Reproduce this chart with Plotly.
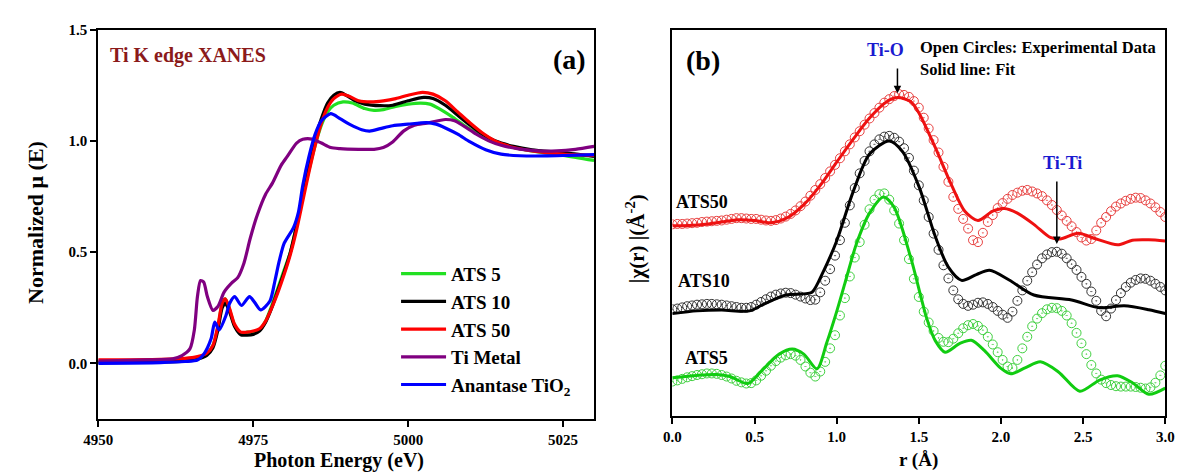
import plotly.graph_objects as go

# ---------------- Panel (a): Ti K-edge XANES ----------------
e_ats5 = [4950, 4960, 4964, 4966, 4967.5, 4968.5, 4969.3, 4970.0, 4970.5, 4971.2, 4972.0, 4973.0, 4974.0,
          4975.0, 4976.0, 4977.0, 4978.0, 4979.0, 4980.0, 4981.0, 4982.0, 4983.0, 4984.0, 4985.0, 4986.0,
          4987.0, 4988.0, 4989.5, 4991.0, 4993.0, 4994.5, 4996.0, 4998.0, 5000.0, 5002.0, 5003.5, 5005.0,
          5007.0, 5009.0, 5011.0, 5013.0, 5015.0, 5018.0, 5021.0, 5025.0, 5030.0]
mu_ats5 = [0.005, 0.008, 0.012, 0.02, 0.04, 0.08, 0.16, 0.27, 0.29, 0.24, 0.17, 0.135, 0.14,
           0.14, 0.15, 0.19, 0.26, 0.34, 0.42, 0.50, 0.62, 0.75, 0.87, 0.98, 1.07,
           1.13, 1.16, 1.175, 1.17, 1.145, 1.137, 1.14, 1.155, 1.165, 1.17, 1.165, 1.145,
           1.11, 1.07, 1.035, 1.005, 0.985, 0.965, 0.95, 0.935, 0.912]

e_ats10 = [4950, 4960, 4964, 4966, 4967.5, 4968.5, 4969.3, 4970.0, 4970.5, 4971.2, 4972.0, 4973.0, 4974.0,
           4975.0, 4976.0, 4977.0, 4978.0, 4979.0, 4980.0, 4981.0, 4982.0, 4983.0, 4984.0, 4985.0, 4986.0,
           4987.0, 4988.0, 4989.0, 4990.0, 4991.5, 4993.0, 4995.5, 4997.5, 5000.0, 5002.5, 5004.0, 5006.0,
           5008.0, 5010.0, 5012.0, 5014.0, 5017.0, 5020.0, 5025.0, 5030.0]
mu_ats10 = [0.003, 0.006, 0.01, 0.018, 0.035, 0.07, 0.15, 0.25, 0.27, 0.23, 0.165, 0.128, 0.127,
            0.13, 0.145, 0.185, 0.25, 0.33, 0.41, 0.50, 0.62, 0.76, 0.89, 1.01, 1.10,
            1.17, 1.205, 1.218, 1.205, 1.18, 1.165, 1.158, 1.16, 1.18, 1.195, 1.19, 1.16,
            1.115, 1.07, 1.03, 1.0, 0.975, 0.96, 0.947, 0.93]

e_ats50 = [4950, 4960, 4964, 4966, 4967.5, 4968.5, 4969.3, 4970.0, 4970.5, 4971.2, 4972.0, 4973.0, 4974.0,
           4975.0, 4976.0, 4977.0, 4978.0, 4979.0, 4980.0, 4981.0, 4982.0, 4983.0, 4984.0, 4985.0, 4986.0,
           4987.0, 4988.0, 4989.3, 4990.5, 4992.0, 4994.0, 4996.0, 4998.0, 5000.0, 5002.3, 5004.0, 5006.0,
           5008.0, 5010.0, 5012.0, 5014.0, 5017.0, 5020.0, 5025.0, 5030.0]
mu_ats50 = [0.015, 0.018, 0.022, 0.03, 0.045, 0.08, 0.17, 0.27, 0.29, 0.245, 0.175, 0.14, 0.14,
            0.145, 0.155, 0.19, 0.25, 0.32, 0.40, 0.49, 0.60, 0.73, 0.86, 0.98, 1.08,
            1.15, 1.19, 1.21, 1.20, 1.18, 1.175, 1.18, 1.19, 1.205, 1.218, 1.21, 1.18,
            1.13, 1.08, 1.035, 1.0, 0.97, 0.955, 0.94, 0.935]

e_ti = [4950, 4958, 4962, 4963.5, 4964.8, 4965.5, 4966.0, 4966.5, 4967.0, 4967.6, 4968.5, 4969.3, 4970.3,
        4971.5, 4972.5, 4973.5, 4974.5, 4975.7, 4977.0, 4978.1, 4979.5, 4980.5, 4982.0, 4983.0, 4984.5,
        4986.0, 4987.5, 4989.0, 4992.0, 4994.5, 4996.0, 4997.5, 4999.3, 5001.0, 5003.0, 5006.0, 5007.5,
        5009.0, 5011.0, 5013.0, 5015.0, 5018.0, 5021.0, 5024.0, 5027.0, 5030.0]
mu_ti = [0.01, 0.015, 0.02, 0.035, 0.066, 0.15, 0.30, 0.372, 0.365, 0.30, 0.238, 0.255, 0.32,
         0.36, 0.385, 0.45, 0.56, 0.67, 0.76, 0.81, 0.89, 0.93, 0.99, 1.007, 1.008,
         0.99, 0.97, 0.965, 0.962, 0.962, 0.97, 0.995, 1.045, 1.07, 1.08, 1.096, 1.09,
         1.066, 1.03, 1.0, 0.98, 0.963, 0.955, 0.955, 0.962, 0.975]

e_tio2 = [4950, 4960, 4964, 4966.0, 4967.0, 4968.2, 4968.8, 4969.5, 4970.6, 4971.2, 4972.0, 4973.1, 4974.4,
          4975.2, 4976.2, 4977.7, 4978.5, 4979.2, 4980.0, 4981.5, 4982.3, 4983.0, 4984.0, 4985.0, 4986.0,
          4987.5, 4989.0, 4990.5, 4992.5, 4993.8, 4995.5, 4997.5, 5000.0, 5003.0, 5004.5, 5006.0, 5008.0,
          5010.0, 5012.5, 5015.0, 5018.0, 5022.0, 5026.0, 5030.0]
mu_tio2 = [0.0, 0.003, 0.008, 0.015, 0.04, 0.11, 0.185, 0.15, 0.215, 0.27, 0.30, 0.26, 0.30,
           0.275, 0.24, 0.28, 0.37, 0.46, 0.54, 0.61, 0.68, 0.80, 0.93, 1.03, 1.09,
           1.122, 1.10, 1.075, 1.05, 1.044, 1.055, 1.068, 1.075, 1.082, 1.075, 1.058, 1.03,
           0.995, 0.96, 0.94, 0.933, 0.932, 0.935, 0.938]

xanes_names = ["ATS 5", "ATS 10", "ATS 50", "Ti Metal", "Anantase TiO<sub>2</sub>"]
xanes_colors = ["#22e022", "#000000", "#ff0000", "#800080", "#0000ff"]

# ---------------- Panel (b): Fourier transformed EXAFS ----------------
r_exp = [round(0.03 * i, 2) for i in range(101)]

chi_ats50_exp = [4.96, 4.97, 4.97, 4.98, 4.99, 5.00, 5.02, 5.03, 5.04, 5.05,
                 5.06, 5.08, 5.10, 5.12, 5.12, 5.11, 5.10, 5.10, 5.08, 5.06,
                 5.05, 5.07, 5.11, 5.16, 5.23, 5.32, 5.43, 5.55, 5.70, 5.85,
                 6.00, 6.16, 6.33, 6.50, 6.67, 6.85, 7.03, 7.21, 7.37, 7.54,
                 7.70, 7.84, 7.98, 8.11, 8.20, 8.28, 8.33, 8.31, 8.26, 8.15,
                 7.98, 7.72, 7.44, 7.14, 6.82, 6.45, 6.06, 5.67, 5.36, 5.10,
                 4.85, 4.55, 4.50, 4.74, 5.02, 5.20, 5.38, 5.51, 5.62, 5.72,
                 5.78, 5.83, 5.85, 5.81, 5.76, 5.69, 5.58, 5.46, 5.33, 5.19,
                 5.05, 4.91, 4.76, 4.62, 4.54, 4.58, 4.80, 5.00, 5.15, 5.30,
                 5.42, 5.50, 5.57, 5.62, 5.65, 5.64, 5.58, 5.50, 5.40, 5.28, 5.15]

chi_ats10_exp = [2.76, 2.78, 2.81, 2.84, 2.86, 2.88, 2.89, 2.90, 2.90, 2.89,
                 2.88, 2.86, 2.84, 2.82, 2.80, 2.80, 2.82, 2.88, 2.95, 3.02,
                 3.09, 3.14, 3.17, 3.19, 3.18, 3.14, 3.09, 3.04, 3.00, 3.01,
                 3.20, 3.50, 3.80, 4.15, 4.55, 5.00, 5.45, 5.90, 6.28, 6.60,
                 6.85, 7.03, 7.16, 7.23, 7.25, 7.20, 7.10, 6.93, 6.68, 6.35,
                 5.97, 5.58, 5.15, 4.72, 4.30, 3.90, 3.56, 3.25, 3.02, 2.90,
                 2.85, 2.88, 2.93, 2.94, 2.90, 2.82, 2.72, 2.62, 2.54, 2.70,
                 2.98, 3.25, 3.50, 3.72, 3.92, 4.08, 4.18, 4.24, 4.25, 4.20,
                 4.08, 3.93, 3.78, 3.60, 3.42, 3.22, 2.98, 2.72, 2.58, 2.78,
                 3.00, 3.18, 3.34, 3.45, 3.52, 3.56, 3.55, 3.50, 3.42, 3.34, 3.25]

chi_ats5_exp = [0.89, 0.92, 0.96, 1.00, 1.03, 1.06, 1.08, 1.10, 1.10, 1.09,
                1.06, 1.02, 0.97, 0.91, 0.87, 0.84, 0.85, 0.92, 1.04, 1.17,
                1.30, 1.42, 1.51, 1.57, 1.60, 1.56, 1.45, 1.28, 1.12, 1.02,
                1.15, 1.40, 1.75, 2.09, 2.60, 3.05, 3.61, 4.10, 4.50, 4.95,
                5.35, 5.60, 5.74, 5.76, 5.60, 5.32, 4.98, 4.55, 4.06, 3.55,
                3.08, 2.70, 2.42, 2.20, 2.02, 1.92, 1.91, 2.00, 2.14, 2.27,
                2.35, 2.38, 2.33, 2.22, 2.05, 1.85, 1.65, 1.45, 1.28, 1.24,
                1.45, 1.75, 2.05, 2.32, 2.52, 2.66, 2.76, 2.80, 2.79, 2.72,
                2.60, 2.40, 2.15, 1.88, 1.60, 1.32, 1.10, 0.94, 0.85, 0.80,
                0.77, 0.76, 0.76, 0.76, 0.75, 0.73, 0.71, 0.74, 0.86, 1.05, 1.30]

r_fit50 = [0.00, 0.10, 0.20, 0.30, 0.40, 0.50, 0.60, 0.70, 0.80, 0.90, 1.00, 1.10, 1.20, 1.30, 1.37, 1.45,
           1.50, 1.60, 1.70, 1.78, 1.86, 1.95, 2.02, 2.10, 2.20, 2.30, 2.36, 2.47, 2.58, 2.71, 2.80, 2.90, 3.00]
chi_ats50_fit = [4.92, 4.93, 4.96, 5.02, 5.08, 5.06, 5.00, 5.13, 5.47, 5.97, 6.57, 7.16, 7.71, 8.12, 8.24, 8.14,
                 7.85, 6.95, 5.97, 5.30, 5.06, 5.30, 5.37, 5.25, 4.96, 4.62, 4.58, 4.73, 4.58, 4.43, 4.55, 4.56, 4.53]

r_fit10 = [0.00, 0.15, 0.30, 0.47, 0.55, 0.69, 0.80, 0.85, 0.92, 1.00, 1.10, 1.20, 1.32, 1.40, 1.50, 1.60,
           1.68, 1.76, 1.85, 1.93, 2.05, 2.20, 2.43, 2.60, 2.75, 2.90, 3.00]
chi_ats10_fit = [2.65, 2.72, 2.74, 2.72, 2.88, 3.13, 3.16, 3.20, 3.75, 4.53, 5.80, 6.78, 7.12, 6.85, 5.95, 4.65,
                 3.85, 3.51, 3.66, 3.77, 3.52, 3.13, 3.00, 2.80, 2.85, 2.75, 2.65]

r_fit5 = [0.00, 0.15, 0.27, 0.35, 0.46, 0.55, 0.65, 0.73, 0.80, 0.88, 0.94, 1.00, 1.05, 1.12, 1.20, 1.285,
          1.35, 1.45, 1.55, 1.60, 1.66, 1.75, 1.82, 1.90, 2.00, 2.06, 2.15, 2.24, 2.35, 2.48, 2.60, 2.71,
          2.80, 2.90, 3.00]
chi_ats5_fit = [0.99, 1.05, 1.07, 1.02, 0.84, 1.20, 1.60, 1.73, 1.60, 1.22, 1.90, 2.70, 3.43, 4.45, 5.25, 5.67,
                5.40, 4.11, 2.50, 1.95, 1.65, 1.88, 1.96, 1.69, 1.23, 1.09, 1.25, 1.40, 1.14, 0.64, 0.93, 1.04,
                0.86, 0.56, 0.72]

FONT = "Liberation Serif"

fig = go.Figure()

xanes = [(e_ats5, mu_ats5), (e_ats10, mu_ats10), (e_ats50, mu_ats50), (e_ti, mu_ti), (e_tio2, mu_tio2)]
for (ex, mu), name, col in zip(xanes, xanes_names, xanes_colors):
    fig.add_trace(go.Scatter(x=ex, y=mu, mode="lines", name=name,
                             line=dict(color=col, width=3.2, shape="spline", smoothing=0.7),
                             xaxis="x", yaxis="y"))

exafs = [
    (r_exp, chi_ats50_exp, r_fit50, chi_ats50_fit, "#e8403f", "#ee1111"),
    (r_exp, chi_ats10_exp, r_fit10, chi_ats10_fit, "#333333", "#000000"),
    (r_exp, chi_ats5_exp, r_fit5, chi_ats5_fit, "#3fd03f", "#11cc11"),
]
for rx, ce, rf, cf, mcol, lcol in exafs:
    fig.add_trace(go.Scatter(x=rx, y=ce, mode="markers", showlegend=False,
                             marker=dict(symbol="circle-open-dot", size=9, color=mcol,
                                         line=dict(width=1, color=mcol)),
                             xaxis="x2", yaxis="y2"))
    fig.add_trace(go.Scatter(x=rf, y=cf, mode="lines", showlegend=False,
                             line=dict(color=lcol, width=3, shape="spline", smoothing=0.8),
                             xaxis="x2", yaxis="y2"))

axis_common = dict(showline=True, mirror=True, linecolor="black", linewidth=2, showgrid=False,
                   zeroline=False, ticks="outside", ticklen=6, tickwidth=2, tickcolor="black",
                   tickfont=dict(family=FONT, size=15, color="black", weight="bold"))

fig.update_layout(
    width=1184, height=472,
    margin=dict(l=0, r=0, t=0, b=0),
    paper_bgcolor="white", plot_bgcolor="white",
    font=dict(family=FONT, size=15, color="black", weight="bold"),
    xaxis=dict(domain=[0.0718, 0.4992], range=[4950, 5030], tickvals=[4950, 4975, 5000, 5025],
               anchor="y", **axis_common),
    yaxis=dict(domain=[0.1144, 0.9534], range=[-0.25, 1.5], tickvals=[0, 0.5, 1.0, 1.5],
               tickformat=".1f", anchor="x", **axis_common),
    xaxis2=dict(domain=[0.5667, 0.9916], range=[0, 3], tickvals=[0, 0.5, 1.0, 1.5, 2.0, 2.5, 3.0],
                tickformat=".1f", anchor="y2", **axis_common),
    yaxis2=dict(domain=[0.1208, 0.9534], range=[0, 10], anchor="x2",
                **{**axis_common, "ticks": "", "showticklabels": False}),
    showlegend=True,
    legend=dict(x=0.3285, y=0.468, xanchor="left", yanchor="top", bgcolor="rgba(0,0,0,0)",
                font=dict(family=FONT, size=19, color="black", weight="bold"),
                itemwidth=45, tracegroupgap=0),
)

ann = []
# Panel (a) texts
ann.append(dict(text="Ti K edge XANES", xref="paper", yref="paper", x=95 / 1184, y=1 - 48 / 472,
                xanchor="left", yanchor="middle", showarrow=False,
                font=dict(family=FONT, size=20, color="#8B1A1A", weight="bold")))
ann.append(dict(text="(a)", xref="paper", yref="paper", x=566 / 1184, y=1 - 52 / 472,
                xanchor="center", yanchor="middle", showarrow=False,
                font=dict(family=FONT, size=28, color="black", weight="bold")))
ann.append(dict(text="Normalized μ (E)", xref="paper", yref="paper", x=21 / 1184, y=1 - 218 / 472,
                xanchor="center", yanchor="middle", textangle=-90, showarrow=False,
                font=dict(family=FONT, size=22, color="black", weight="bold")))
ann.append(dict(text="Photon Energy (eV)", xref="paper", yref="paper", x=331 / 1184, y=1 - 460 / 472,
                xanchor="center", yanchor="middle", showarrow=False,
                font=dict(family=FONT, size=20, color="black", weight="bold")))
# Panel (b) texts
ann.append(dict(text="(b)", xref="x2", yref="y2", x=0.185, y=9.21, xanchor="center", yanchor="middle",
                showarrow=False, font=dict(family=FONT, size=28, color="black", weight="bold")))
ann.append(dict(text="Open Circles: Experimental Data", xref="x2", yref="y2", x=1.494, y=9.54,
                xanchor="left", yanchor="middle", showarrow=False,
                font=dict(family=FONT, size=16.5, color="black", weight="bold")))
ann.append(dict(text="Solid line: Fit", xref="x2", yref="y2", x=1.494, y=8.98,
                xanchor="left", yanchor="middle", showarrow=False,
                font=dict(family=FONT, size=16.5, color="black", weight="bold")))
ann.append(dict(text="Ti-O", xref="x2", yref="y2", x=1.30, y=9.47, xanchor="center", yanchor="middle",
                showarrow=False, font=dict(family=FONT, size=18, color="#1a1ad0", weight="bold")))
ann.append(dict(text="", xref="x2", yref="y2", x=1.37, y=8.35, axref="x2", ayref="y2", ax=1.37, ay=9.03,
                showarrow=True, arrowhead=2, arrowsize=1, arrowwidth=1.5, arrowcolor="black"))
ann.append(dict(text="Ti-Ti", xref="x2", yref="y2", x=2.375, y=6.56, xanchor="center", yanchor="middle",
                showarrow=False, font=dict(family=FONT, size=18, color="#1a1ad0", weight="bold")))
ann.append(dict(text="", xref="x2", yref="y2", x=2.34, y=4.45, axref="x2", ayref="y2", ax=2.34, ay=6.11,
                showarrow=True, arrowhead=2, arrowsize=1, arrowwidth=1.5, arrowcolor="black"))
for lab, xx, yy in [("ATS50", 0.18, 5.55), ("ATS10", 0.19, 3.49), ("ATS5", 0.21, 1.50)]:
    ann.append(dict(text=lab, xref="x2", yref="y2", x=xx, y=yy, xanchor="center", yanchor="middle",
                    showarrow=False, font=dict(family=FONT, size=18, color="black", weight="bold")))
ann.append(dict(text="|χ(r) |(Å<sup>-2</sup>)", xref="paper", yref="paper", x=633 / 1184, y=1 - 235 / 472,
                xanchor="center", yanchor="middle", textangle=-90, showarrow=False,
                font=dict(family=FONT, size=21, color="black", weight="bold")))
ann.append(dict(text="r (Å)", xref="paper", yref="paper", x=922.5 / 1184, y=1 - 460 / 472,
                xanchor="center", yanchor="middle", showarrow=False,
                font=dict(family=FONT, size=19, color="black", weight="bold")))
fig.update_layout(annotations=ann)

fig.write_html("out.html")
